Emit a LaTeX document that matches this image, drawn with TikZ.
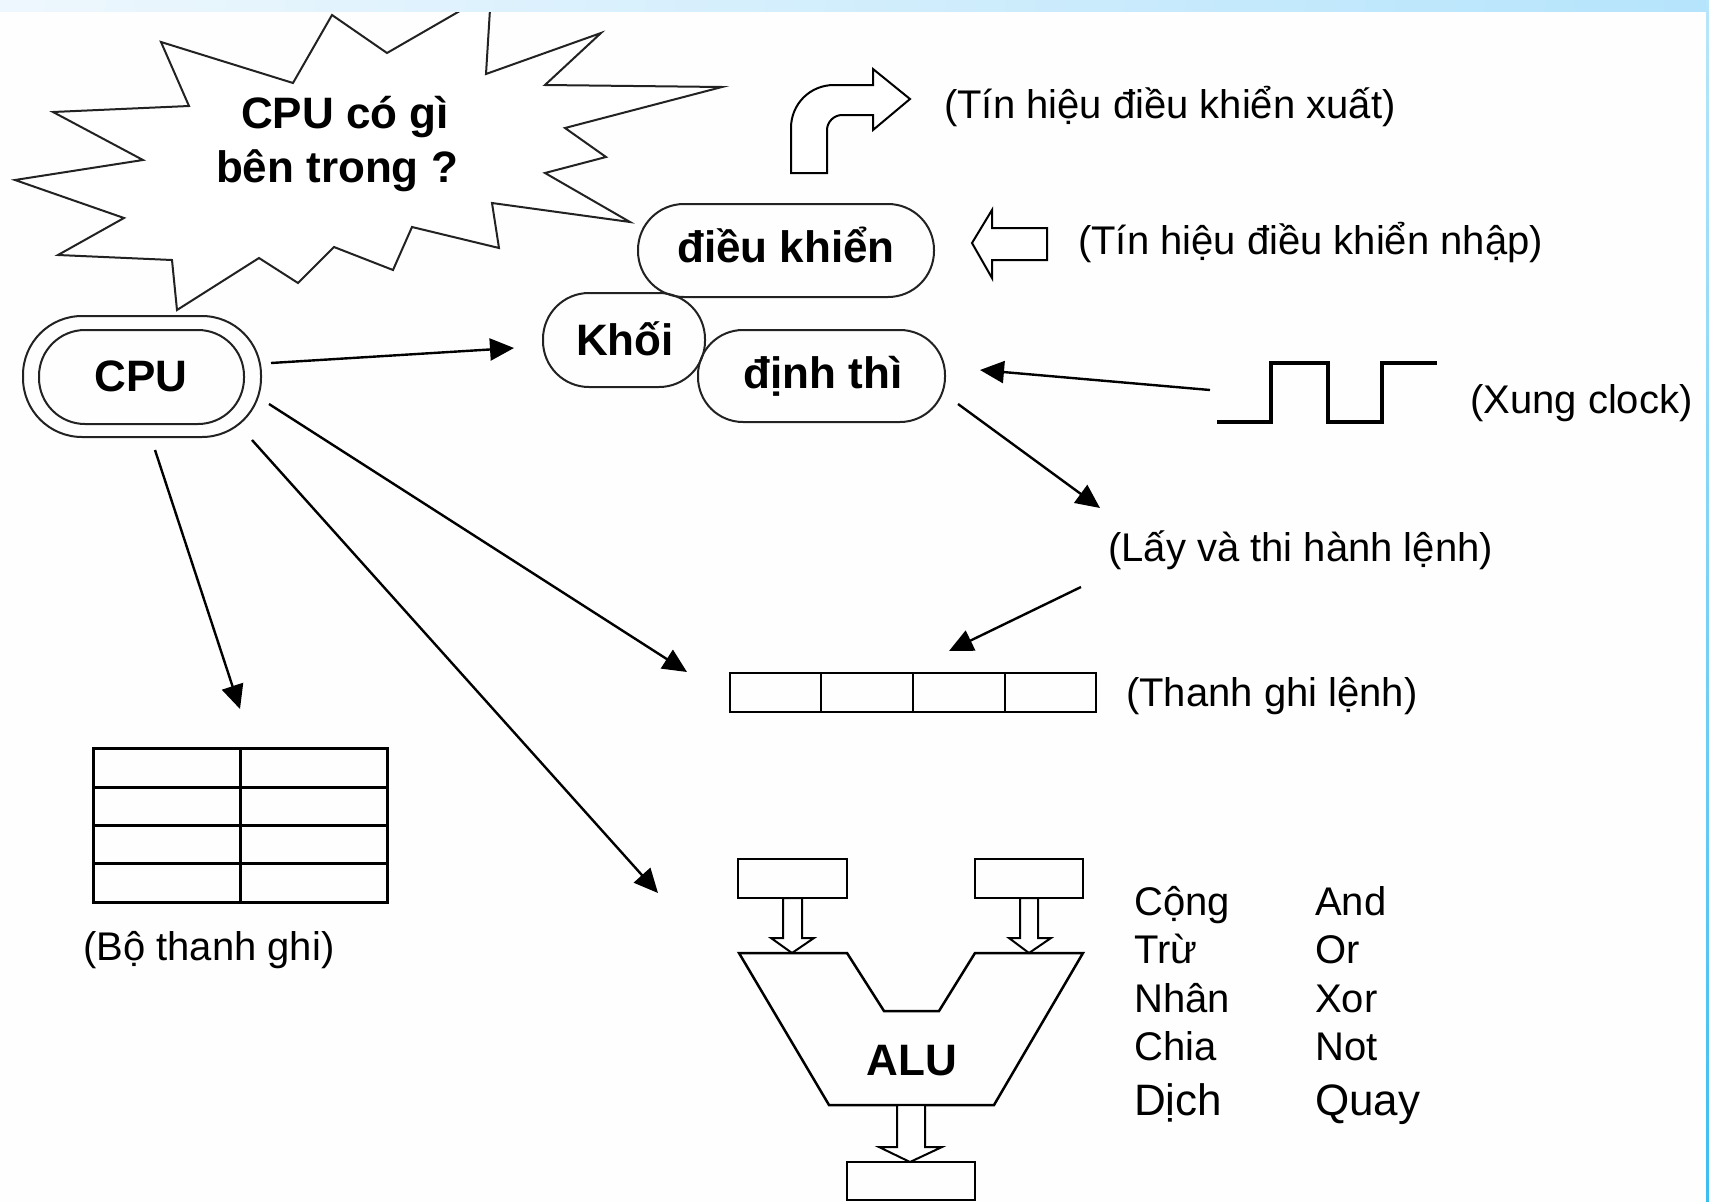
\documentclass[tikz,border=0pt]{standalone}
\usepackage{fontspec}
\setmainfont{Liberation Sans}
\usetikzlibrary{arrows.meta}
\definecolor{stripL}{HTML}{EEF7FD}
\definecolor{stripR}{HTML}{B5E4FC}
\definecolor{edgeTop}{HTML}{B8E6FA}
\definecolor{edgeBot}{HTML}{3CBDF0}
\definecolor{ink}{HTML}{222222}
\begin{document}
\begin{tikzpicture}[x=1pt,y=-1pt,
  outl/.style={draw=ink, line width=2pt, line join=miter},
  rbox/.style={draw=ink, line width=2pt, inner sep=0pt},
  conn/.style={draw=black, line width=2.4pt, -{Triangle[length=24pt,width=22pt]}},
  btxt/.style={font=\fontsize{44}{50}\selectfont\bfseries, anchor=base, inner sep=0pt},
  rtxt/.style={font=\fontsize{40}{46}\selectfont, anchor=base west, inner sep=0pt},
  btxtl/.style={font=\fontsize{44}{50}\selectfont, anchor=base west, inner sep=0pt},
  hollow/.style={draw=black, line width=2pt, fill=white, line join=miter},
  gridl/.style={draw=black, line width=3pt},
  regl/.style={draw=black, line width=2.5pt}]
\useasboundingbox (0,0) rectangle (1709,1202);
\fill[white!99.5!black] (0,0) rectangle (1709,1202);

% starburst
\draw[outl, fill=white] (161,42) -- (293,83) -- (332,15) -- (387,53) -- (491,-7) -- (486,74)
  -- (601,33) -- (545,85) -- (722,87) -- (565,128) -- (606,157) -- (545,173) -- (630,222)
  -- (492,203) -- (499,248) -- (412,227) -- (393,270) -- (334,247) -- (298,283) -- (259,258)
  -- (177,310) -- (172,260) -- (58,255) -- (124,218) -- (15,180) -- (143,160) -- (53,112)
  -- (189,106) -- cycle;
\node[btxt] (q1) at (345,128) {CPU có gì};
\node[btxt] (q2) at (337,182) {bên trong ?};

% frame strips
\shade[left color=stripL, right color=stripR] (0,0) rectangle (1709,11);
\shade[top color=edgeTop, bottom color=edgeBot] (1706,0) rectangle (1709,1202);

% CPU
\node[rbox, minimum width=238pt, minimum height=121pt, rounded corners=59pt] (cpuo) at (142,376.5) {};
\node[rbox, minimum width=205pt, minimum height=94pt, rounded corners=46pt] (cpui) at (141.5,377) {};
\node[btxt] (cput) at (141,391) {CPU};

% control unit
\node[rbox, minimum width=296pt, minimum height=93pt, rounded corners=46pt] (ctrl) at (786,250.5) {};
\node[btxt] (ctrlt) at (786,262) {điều khiển};
\node[rbox, minimum width=162pt, minimum height=94pt, rounded corners=46pt] (khoi) at (624,340) {};
\node[btxt] (khoit) at (625,355) {Khối};
\node[rbox, minimum width=247pt, minimum height=92pt, rounded corners=45pt] (dinh) at (821.5,376) {};
\node[btxt] (dinht) at (823,388) {định thì};

% bent output arrow
\draw[hollow] (791,173) -- (791,128) .. controls (791,104) and (810,85) .. (834,85)
  -- (873,85) -- (873,69) -- (910,99) -- (873,130) -- (873,115) -- (842,115)
  .. controls (834,115) and (827,122) .. (827,130) -- (827,173) -- cycle;
\node[rtxt] (outsig) at (944,118) {(Tín hiệu điều khiển xuất)};

% input arrow
\draw[hollow] (972,243) -- (992,210) -- (992,228) -- (1047,228) -- (1047,260) -- (992,260) -- (992,278) -- cycle;
\node[rtxt] (insig) at (1078,254) {(Tín hiệu điều khiển nhập)};

% clock
\draw[line width=3.5pt, line join=miter] (1217,422) -- (1271,422) -- (1271,363) -- (1328,363)
  -- (1328,422) -- (1382,422) -- (1382,363) -- (1437,363);
\coordinate (clk) at (1210,390);
\node[rtxt] (clkt) at (1470,413) {(Xung clock)};

% fetch/execute label
\node[rtxt] (fetch) at (1108,561) {(Lấy và thi hành lệnh)};

% instruction register
\node[regl, minimum width=366pt, minimum height=39pt, inner sep=0pt] (ir) at (913,692.5) {};
\draw[regl] (821,673) -- (821,712) (913,673) -- (913,712) (1005,673) -- (1005,712);
\node[rtxt] (irt) at (1126,706) {(Thanh ghi lệnh)};

% register set
\node[gridl, minimum width=294pt, minimum height=154pt, inner sep=0pt] (regs) at (240,825) {};
\draw[gridl] (93,787) -- (387,787) (93,825) -- (387,825) (93,863) -- (387,863) (240,748) -- (240,902);
\node[rtxt] (regst) at (83,960) {(Bộ thanh ghi)};

% ALU
\node[regl, minimum width=109pt, minimum height=39pt, inner sep=0pt] (ina) at (792.5,878.5) {};
\node[regl, minimum width=108pt, minimum height=39pt, inner sep=0pt] (inb) at (1029,878.5) {};
\draw[hollow] (783,898) -- (783,938) -- (771,938) -- (792,953) -- (814,938) -- (802,938) -- (802,898) -- cycle;
\draw[hollow] (1020,898) -- (1020,938) -- (1009,938) -- (1029,953) -- (1051,938) -- (1038,938) -- (1038,898) -- cycle;
\draw[draw=black, line width=2.5pt, line join=miter] (739,953) -- (847,953) -- (884,1011) -- (939,1011)
  -- (975,953) -- (1083,953) -- (994,1105) -- (829,1105) -- cycle;
\node[btxt] (alut) at (912,1075) {ALU};
\draw[hollow] (897,1105) -- (897,1147) -- (879,1147) -- (910,1162) -- (942,1147) -- (925,1147) -- (925,1105) -- cycle;
\node[regl, minimum width=128pt, minimum height=38pt, inner sep=0pt] (outr) at (911,1181) {};

\node[rtxt] (op1) at (1134,915) {Cộng};
\node[rtxt] (op2) at (1134,963) {Trừ};
\node[rtxt] (op3) at (1134,1012) {Nhân};
\node[rtxt] (op4) at (1134,1060) {Chia};
\node[btxtl] (op5) at (1134,1115) {Dịch};
\node[rtxt] (op6) at (1315,915) {And};
\node[rtxt] (op7) at (1315,963) {Or};
\node[rtxt] (op8) at (1315,1012) {Xor};
\node[rtxt] (op9) at (1315,1060) {Not};
\node[btxtl] (op10) at (1315,1115) {Quay};

% connectors
\coordinate (cpuE) at (271,363);   \coordinate (khoiW) at (514,348);
\coordinate (dinhE) at (980,370);
\coordinate (dinhSE) at (958,404); \coordinate (fetchW) at (1100,508);
\coordinate (fetchS) at (1081,587); \coordinate (irN) at (949,651);
\coordinate (cpuA) at (269,404);   \coordinate (irW) at (687,672);
\coordinate (cpuB) at (252,440);   \coordinate (aluNW) at (658,893);
\coordinate (cpuC) at (155,450);   \coordinate (regsN) at (240,709);
\draw[conn] (cpuE) -- (khoiW);
\draw[conn] (clk) -- (dinhE);
\draw[conn] (dinhSE) -- (fetchW);
\draw[conn] (fetchS) -- (irN);
\draw[conn] (cpuA) -- (irW);
\draw[conn] (cpuB) -- (aluNW);
\draw[conn] (cpuC) -- (regsN);
\end{tikzpicture}
\end{document}
